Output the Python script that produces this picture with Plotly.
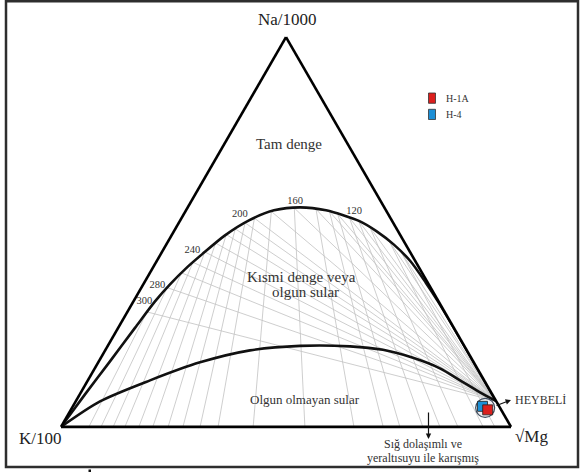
import plotly.graph_objects as go

W, H = 582, 472
ML, MR, MT, MB = 61, 71, 37, 45
PW, PH = W - ML - MR, H - MT - MB

# Full equilibrium line (fractions of Na/1000 and sqrt(Mg); K/100 is the rest)
FULL_NA = [0.000, 0.0834, 0.1681, 0.2540, 0.3220, 0.3657, 0.4067, 0.4426, 0.4914,
           0.5299, 0.5556, 0.5633, 0.5556, 0.5280, 0.5024, 0.4683, 0.4255, 0.3700,
           0.3195, 0.2420, 0.1500, 0.0660]
FULL_MG = [0.000, 0.0116, 0.0248, 0.0374, 0.0479, 0.0594, 0.0744, 0.0920, 0.1187,
           0.1528, 0.1956, 0.2495, 0.3111, 0.3993, 0.4496, 0.5050, 0.5634, 0.6256,
           0.6793, 0.7580, 0.8500, 0.9340]

# Boundary of immature waters
IMM_NA = [0.000, 0.0654, 0.1193, 0.1655, 0.1963, 0.2079, 0.2066, 0.1976, 0.1771,
          0.1501, 0.1193, 0.0885, 0.0660]
IMM_MG = [0.000, 0.0540, 0.1382, 0.2262, 0.3218, 0.4271, 0.5389, 0.6167, 0.6937,
          0.7671, 0.8271, 0.8869, 0.9340]

# K-Mg isotherms: sqrt(Mg)/(K+sqrt(Mg)) where each meets the K-Mg side
ISO_MG = [0.062, 0.089, 0.116, 0.142, 0.173, 0.204, 0.238, 0.271, 0.309, 0.349,
          0.427, 0.542, 0.651, 0.716, 0.753, 0.804, 0.842, 0.882, 0.938, 0.964]

# Temperature labels along the full equilibrium line
TEMP_TEXT = ["300", "280", "240", "200", "160", "120"]
TEMP_NA = [0.3228, 0.3631, 0.4529, 0.5453, 0.5794, 0.5538]
TEMP_MG = [0.0238, 0.0324, 0.0653, 0.1251, 0.2303, 0.3742]

# Samples
SAMPLES = ["H-4", "H-1A"]
SAMPLE_NA = [0.0526, 0.0436]
SAMPLE_K = [0.037, 0.030]
SAMPLE_MG = [0.910, 0.926]
SAMPLE_COLORS = ["#1c8fd6", "#dc1f1d"]
GROUP_NA, GROUP_K, GROUP_MG = 0.0488, 0.033, 0.918

FONT = "Liberation Serif"


def kfrac(na, mg):
    return [max(0.0, 1 - x - y) for x, y in zip(na, mg)]


def on_full_line(r):
    """Point of the full equilibrium line with sqrt(Mg)/(K+sqrt(Mg)) == r."""
    for i in range(len(FULL_NA) - 1):
        s0, s1 = 1 - FULL_NA[i], 1 - FULL_NA[i + 1]
        c0, c1 = FULL_MG[i], FULL_MG[i + 1]
        r0, r1 = c0 / s0, c1 / s1
        if r0 <= r <= r1:
            t = (r * s0 - c0) / ((c1 - c0) - r * (s1 - s0))
            a = FULL_NA[i] + t * (FULL_NA[i + 1] - FULL_NA[i])
            c = c0 + t * (c1 - c0)
            return a, 1 - a - c, c
    return None


# isotherm network: K-Mg lines down to the K-Mg side,
# Na-K lines converging where both boundary curves meet
end_a, end_c = FULL_NA[-1], FULL_MG[-1]
ga, gb, gc = [], [], []
for r in ISO_MG:
    node = on_full_line(r)
    if node is None:
        continue
    a, b, c = node
    ga += [a, 0, None, a, end_a, None]
    gb += [b, 1 - r, None, b, 1 - end_a - end_c, None]
    gc += [c, r, None, c, end_c, None]

fig = go.Figure()
fig.add_trace(go.Scatterternary(a=ga, b=gb, c=gc, mode="lines",
                                line=dict(color="#c2c2c2", width=0.8),
                                hoverinfo="skip", showlegend=False))
for na, mg in ((FULL_NA, FULL_MG), (IMM_NA, IMM_MG)):
    fig.add_trace(go.Scatterternary(a=na, b=kfrac(na, mg), c=mg, mode="lines",
                                    line=dict(color="#111", width=2.6, shape="spline",
                                              smoothing=0.8),
                                    hoverinfo="skip", showlegend=False))
fig.add_trace(go.Scatterternary(a=TEMP_NA, b=kfrac(TEMP_NA, TEMP_MG), c=TEMP_MG,
                                mode="text", text=TEMP_TEXT, textposition="middle center",
                                textfont=dict(family=FONT, size=10.5, color="#333"),
                                hoverinfo="skip", showlegend=False))
fig.add_trace(go.Scatterternary(a=[GROUP_NA], b=[GROUP_K], c=[GROUP_MG], mode="markers",
                                marker=dict(symbol="circle", size=19, color="#ececf0",
                                            line=dict(color="#3d4b5c", width=1.2)),
                                hoverinfo="skip", showlegend=False))
for name, na, k, mg, col in zip(SAMPLES, SAMPLE_NA, SAMPLE_K, SAMPLE_MG, SAMPLE_COLORS):
    fig.add_trace(go.Scatterternary(a=[na], b=[k], c=[mg], mode="markers", name=name,
                                    marker=dict(symbol="square", size=10, color=col,
                                                line=dict(color="#222", width=0.8)),
                                    showlegend=False))

axis = dict(showgrid=False, showticklabels=False, ticks="", linecolor="#000",
            linewidth=2.6, title=dict(text=""))


def X(px):
    return (px - ML) / PW


def Y(py):
    return (H - MB - py) / PH


ann = []
def text(s, x, y, size, anchor="center", color="#222"):
    ann.append(dict(text=s, x=X(x), y=Y(y), xref="paper", yref="paper", showarrow=False,
                    xanchor=anchor, yanchor="middle",
                    font=dict(family=FONT, size=size, color=color)))

text("Na/1000", 287, 20, 17)
text("K/100", 40, 439, 17)
text("√Mg", 531, 437, 17)
text("Tam denge", 289, 144, 15, color="#333")
text("Kısmi denge veya", 301, 277, 15, color="#333")
text("olgun sular", 305, 292, 15, color="#333")
text("Olgun olmayan sular", 305, 399, 13, color="#333")
text("HEYBELİ", 513, 400, 12, anchor="left", color="#333")
text("Sığ dolaşımlı ve", 423, 443.5, 12, color="#333")
text("yeraltısuyu ile karışmış", 423, 457.5, 12, color="#333")
text("H-1A", 444, 98.5, 10, anchor="left", color="#333")
text("H-4", 444, 114.5, 10, anchor="left", color="#333")

# arrows (offsets of the tail in pixels)
ann.append(dict(x=X(511), y=Y(400), ax=-16, ay=6, xref="paper", yref="paper",
                axref="pixel", ayref="pixel", text="", showarrow=True, arrowhead=2,
                arrowsize=0.9, arrowwidth=1.2, arrowcolor="#111"))
ann.append(dict(x=X(428.5), y=Y(439), ax=0, ay=-28, xref="paper", yref="paper",
                axref="pixel", ayref="pixel", text="", showarrow=True, arrowhead=2,
                arrowsize=0.9, arrowwidth=1.2, arrowcolor="#111"))

shapes = [
    dict(type="rect", xref="paper", yref="paper", x0=X(6), x1=X(578), y0=Y(467), y1=Y(1.2),
         line=dict(color="#2e2e2e", width=2.5)),
    dict(type="rect", xref="paper", yref="paper", x0=X(428.5), x1=X(435.5), y0=Y(103.3), y1=Y(93),
         fillcolor="#dc1f1d", line=dict(color="#333", width=0.8)),
    dict(type="rect", xref="paper", yref="paper", x0=X(428.5), x1=X(435.5), y0=Y(119.5), y1=Y(109.3),
         fillcolor="#1c8fd6", line=dict(color="#333", width=0.8)),
    dict(type="rect", xref="paper", yref="paper", x0=X(88.5), x1=X(91), y0=Y(472), y1=Y(469.5),
         fillcolor="#111", line=dict(width=0)),
]

fig.update_layout(
    width=W, height=H, margin=dict(l=ML, r=MR, t=MT, b=MB),
    paper_bgcolor="white", plot_bgcolor="white", showlegend=False,
    ternary=dict(sum=1, bgcolor="white", domain=dict(x=[0, 1], y=[0, 1]),
                 aaxis=axis, baxis=axis, caxis=axis),
    annotations=ann, shapes=shapes,
    font=dict(family=FONT),
)

fig.write_html("out.html")
